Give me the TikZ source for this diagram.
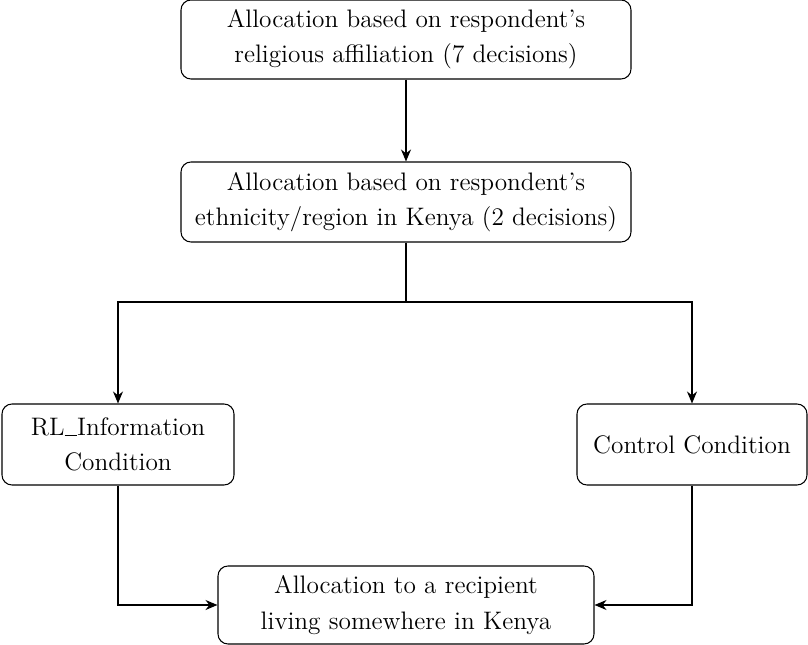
\documentclass[tikz,border=0pt]{standalone}
\usetikzlibrary{arrows.meta}
\begin{document}
\begin{tikzpicture}[x=0.02cm, y=-0.02cm,
    box/.style={draw, rounded corners=0.2cm, semithick, align=center, font=\Large, inner sep=0pt},
    flow/.style={thick, -{Stealth[length=0.24cm, width=0.2cm]}}]
\useasboundingbox (0,0) rectangle (808,645);
\draw (406, 39.5) node[box, minimum width=450*0.02cm, minimum height=79*0.02cm] (religion) {Allocation based on respondent's\\[2pt]religious affiliation (7 decisions)};
\draw (406, 202) node[box, minimum width=450*0.02cm, minimum height=80*0.02cm] (ethnicity) {Allocation based on respondent's\\[2pt]ethnicity/region in Kenya (2 decisions)};
\draw (118, 444.5) node[box, minimum width=232*0.02cm, minimum height=81*0.02cm] (info) {RL\rule{0.5em}{0.4pt}Information\\[2pt]Condition};
\draw (692, 444.5) node[box, minimum width=230*0.02cm, minimum height=81*0.02cm] (control) {Control Condition};
\draw (406, 605) node[box, minimum width=376*0.02cm, minimum height=78*0.02cm] (recipient) {Allocation to a recipient\\[2pt]living somewhere in Kenya};
\coordinate (split) at (406, 302);
\draw[flow] (religion) -- (ethnicity);
\draw[thick] (ethnicity) -- (split);
\draw[flow] (split) -| (info);
\draw[flow] (split) -| (control);
\draw[flow] (info) |- (recipient);
\draw[flow] (control) |- (recipient);
\end{tikzpicture}
\end{document}
